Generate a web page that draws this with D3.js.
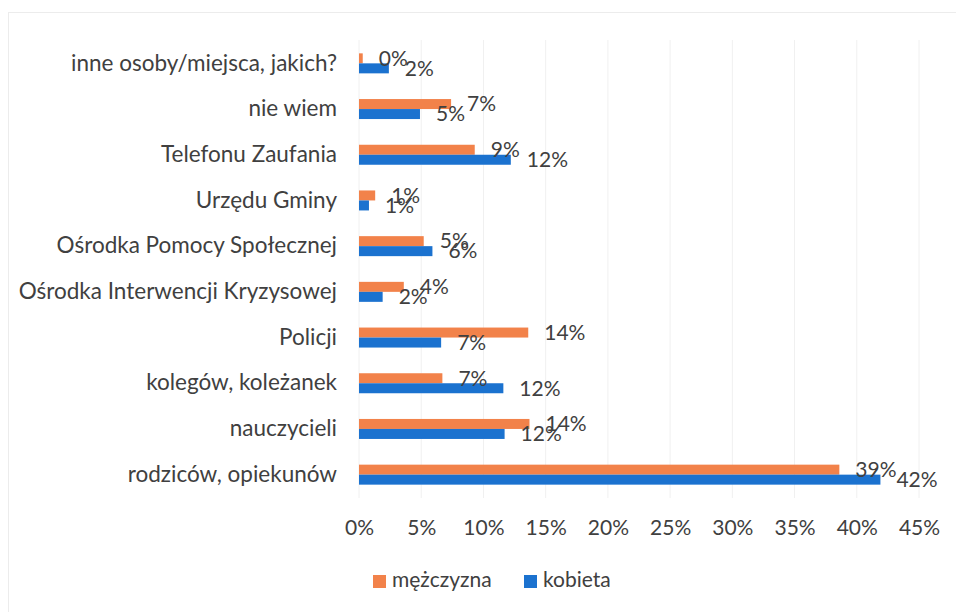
<!DOCTYPE html>
<html>
<head>
<meta charset="utf-8">
<script src="https://cdn.jsdelivr.net/npm/d3@7"></script>
<style>
  body { margin: 0; background: #fff; }
  text { font-family: Lato, "Noto Sans", sans-serif; fill: #404040; }
</style>
</head>
<body>
<div id="chart"></div>
<script>
// categories top to bottom
var categories = ["inne osoby/miejsca, jakich?", "nie wiem", "Telefonu Zaufania", "Urzędu Gminy",
  "Ośrodka Pomocy Społecznej", "Ośrodka Interwencji Kryzysowej", "Policji",
  "kolegów, koleżanek", "nauczycieli", "rodziców, opiekunów"];
var series = ["mężczyzna", "kobieta"];
var mezczyzna = [0.3, 7.4, 9.3, 1.3, 5.2, 3.6, 13.6, 6.7, 13.7, 38.6];
var kobieta = [2.4, 4.9, 12.2, 0.8, 5.9, 1.9, 6.6, 11.6, 11.7, 41.9];
var xTicks = [0, 5, 10, 15, 20, 25, 30, 35, 40, 45];
var colors = ["#f2824a", "#1b72cf"];

var w = 956, h = 612;
var svg = d3.select("#chart").append("svg").attr("width", w).attr("height", h);

// faint frame of the scanned chart
svg.append("rect").attr("x", 8.5).attr("y", 12.5).attr("width", 980).attr("height", 640)
  .attr("fill", "none").attr("stroke", "#ececec");

var x = d3.scaleLinear().domain([0, 45]).range([359, 919]);
var y = d3.scaleBand().domain(categories).range([40.5, 497.5]);
var inner = d3.scaleBand().domain(series).range([-10, 10]);

// gridlines
svg.append("g").selectAll("line").data(xTicks).enter().append("line")
  .attr("x1", d => x(d)).attr("x2", d => x(d))
  .attr("y1", 40).attr("y2", 498)
  .attr("stroke", "#f0f0f0");

var rows = categories.map((c, i) => ({ cat: c, vals: [mezczyzna[i], kobieta[i]] }));

var g = svg.append("g").selectAll("g").data(rows).enter().append("g")
  .attr("transform", d => "translate(0," + (y(d.cat) + y.bandwidth() / 2) + ")");

g.selectAll("rect").data(d => d.vals.map((v, j) => ({ s: series[j], v: v, j: j }))).enter()
  .append("rect")
  .attr("x", x(0))
  .attr("y", d => inner(d.s))
  .attr("width", d => x(d.v) - x(0))
  .attr("height", inner.bandwidth())
  .attr("fill", d => colors[d.j]);

g.selectAll("text.val").data(d => d.vals.map((v, j) => ({ s: series[j], v: v }))).enter()
  .append("text").attr("class", "val")
  .attr("x", d => x(d.v) + 16)
  .attr("y", d => inner(d.s) + inner.bandwidth() / 2 + 2)
  .attr("dominant-baseline", "middle")
  .style("font-size", "21px")
  .text(d => Math.round(d.v) + "%");

// category labels
var yAxis = d3.axisLeft(y).tickSize(0).tickPadding(0);
svg.append("g").attr("transform", "translate(337,0)").call(yAxis)
  .call(s => s.select(".domain").remove())
  .selectAll("text").style("font-size", "22.5px").attr("font-family", null).attr("fill", null);

// x axis labels
var xAxis = d3.axisBottom(x).tickValues(xTicks).tickSize(0).tickPadding(0).tickFormat(d => d + "%");
svg.append("g").attr("transform", "translate(0,520)").call(xAxis)
  .call(s => s.select(".domain").remove())
  .selectAll("text").style("font-size", "21px").attr("font-family", null).attr("fill", null);

// legend
var leg = svg.append("g").attr("transform", "translate(373,582)");
var items = leg.selectAll("g").data(series).enter().append("g")
  .attr("transform", (d, i) => "translate(" + (i * 151) + ",0)");
items.append("rect").attr("x", 0).attr("y", -7).attr("width", 13).attr("height", 13)
  .attr("fill", (d, i) => colors[i]);
items.append("text").attr("x", 19).attr("y", 0).attr("dominant-baseline", "middle")
  .style("font-size", "21px").text(d => d);
</script>
</body>
</html>
